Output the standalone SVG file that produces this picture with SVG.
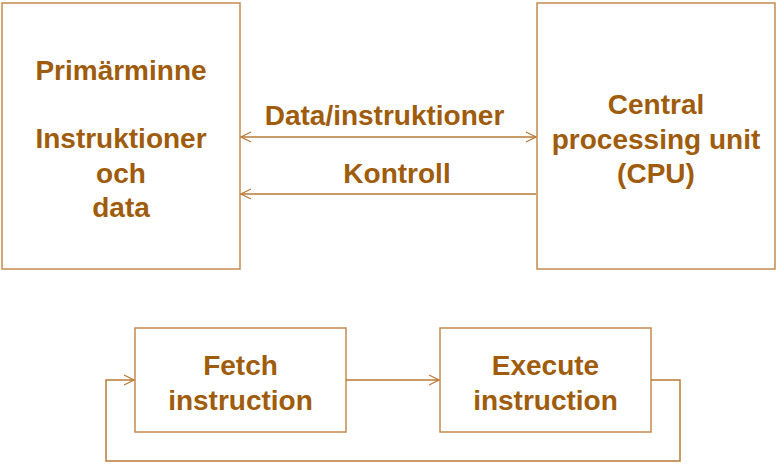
<svg xmlns="http://www.w3.org/2000/svg" width="777" height="464" viewBox="0 0 777 464">
<defs>
<style>
.box{fill:#fff;stroke:#C48B4E;stroke-width:1.5}
.ln{fill:none;stroke:#B97A36;stroke-width:1.5}
.t{font-family:"Liberation Sans",Arial,sans-serif;font-weight:bold;font-size:28px;fill:#9E5C0C;text-anchor:middle}
</style>
<marker id="ah" viewBox="0 0 12 12" refX="11" refY="6" markerWidth="12" markerHeight="12" markerUnits="userSpaceOnUse" orient="auto-start-reverse">
<path d="M1,1 L11,6 L1,11" fill="none" stroke="#B97A36" stroke-width="1.2"/>
</marker>
</defs>
<rect width="777" height="464" fill="#fff"/>
<g id="mem">
<rect class="box" x="2" y="3" width="238" height="266"/>
<text class="t" x="121" y="80">Primärminne</text>
<text class="t" x="121" y="148">Instruktioner</text>
<text class="t" x="121" y="183">och</text>
<text class="t" x="121" y="217">data</text>
</g>
<g id="cpu">
<rect class="box" x="537" y="3" width="238" height="266"/>
<text class="t" x="656" y="114">Central</text>
<text class="t" x="656" y="149">processing unit</text>
<text class="t" x="656" y="183">(CPU)</text>
</g>
<g id="fetch">
<rect class="box" x="135" y="328" width="211" height="104"/>
<text class="t" x="240.5" y="375">Fetch</text>
<text class="t" x="240.5" y="410">instruction</text>
</g>
<g id="execute">
<rect class="box" x="440" y="328" width="211" height="104"/>
<text class="t" x="545.5" y="375">Execute</text>
<text class="t" x="545.5" y="410">instruction</text>
</g>
<g id="connectors">
<line class="ln" x1="241" y1="137" x2="536" y2="137" marker-start="url(#ah)" marker-end="url(#ah)"/>
<text class="t" x="384.5" y="125">Data/instruktioner</text>
<line class="ln" x1="536" y1="194" x2="241" y2="194" marker-end="url(#ah)"/>
<text class="t" x="397" y="183">Kontroll</text>
<line class="ln" x1="346" y1="380" x2="439" y2="380" marker-end="url(#ah)"/>
<polyline class="ln" points="651,380 680,380 680,461 106,461 106,380 134,380" marker-end="url(#ah)"/>
</g>
</svg>
